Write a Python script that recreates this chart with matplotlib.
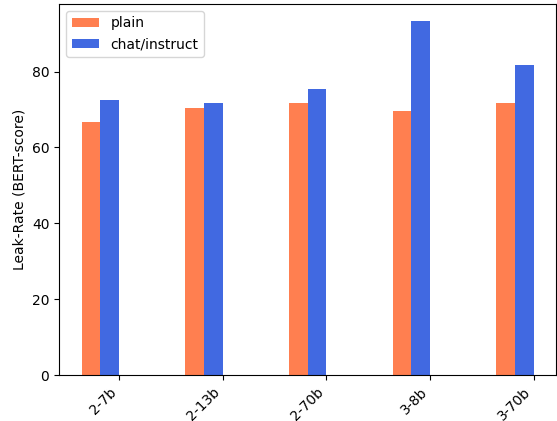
import numpy as np
import matplotlib
matplotlib.use("Agg")
import matplotlib.pyplot as plt

models = ["2-7b", "2-13b", "2-70b", "3-8b", "3-70b"]
plain = [66.8, 70.5, 71.8, 69.5, 71.6]
chat = [72.6, 71.6, 75.5, 93.2, 81.6]


def plot_leak_rate():
    x = np.arange(len(models))
    width = 0.18

    fig, ax = plt.subplots(figsize=(5.57, 4.21), dpi=100)
    fig.subplots_adjust(left=0.106, right=0.999, bottom=0.109, top=0.991)

    ax.bar(x - 1.5 * width, plain, width, color="coral", label="plain")
    ax.bar(x - 0.5 * width, chat, width, color="royalblue", label="chat/instruct")

    ax.set_ylabel("Leak-Rate (BERT-score)")
    ax.set_xticks(x)
    ax.set_xticklabels(models, rotation=45, ha="right")
    ax.legend(loc="upper left")

    fig.savefig("out.png", dpi=100)


if __name__ == "__main__":
    plot_leak_rate()
